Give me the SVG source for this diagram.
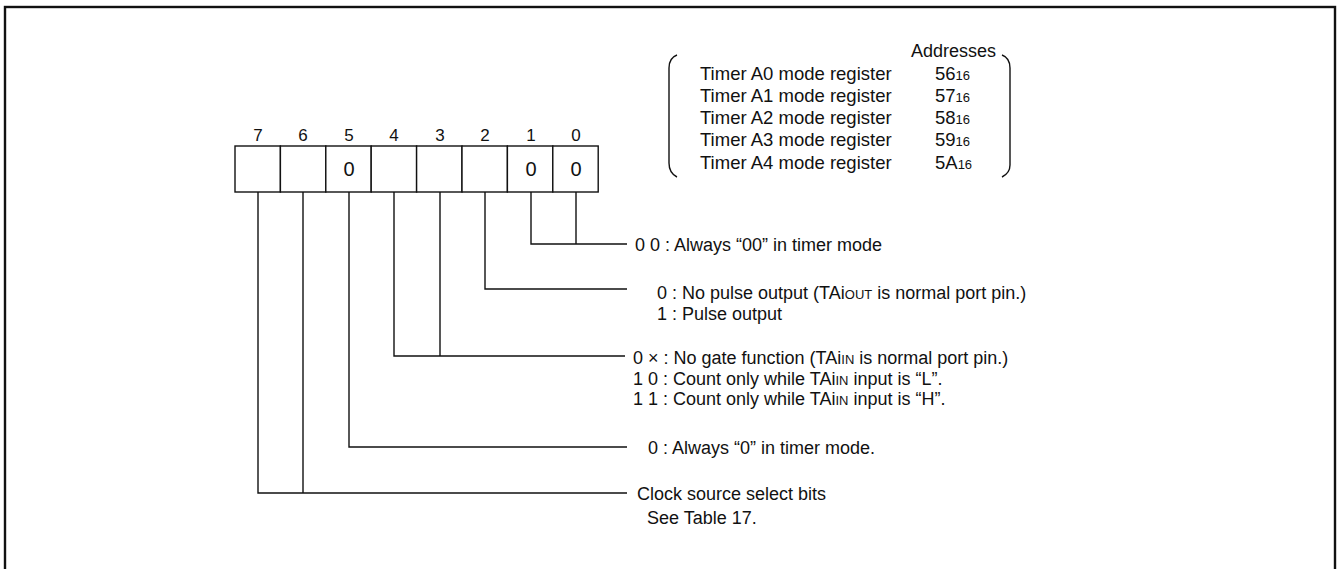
<svg xmlns="http://www.w3.org/2000/svg" width="1337" height="569" viewBox="0 0 1337 569">
<style>
  text { font-family: "Liberation Sans", Arial, sans-serif; fill: #111; }
  .t { font-size: 18px; }
  .a { font-size: 18.5px; }
  .bn { font-size: 17px; text-anchor: middle; }
  .cv { font-size: 20px; text-anchor: middle; }
  .sm { font-size: 13px; }
  .ln { stroke: #111; stroke-width: 1.4; fill: none; }
  .cell { stroke: #111; stroke-width: 1.4; fill: #fff; }
</style>
<rect x="0" y="0" width="1337" height="569" fill="#fff"/>
<rect id="frame" x="5" y="7" width="1330" height="620" fill="none" stroke="#111" stroke-width="2.4"/>

<g id="register">
  <rect class="cell" x="235" y="146" width="45.4" height="46"/>
  <rect class="cell" x="280.4" y="146" width="45.4" height="46"/>
  <rect class="cell" x="325.8" y="146" width="45.4" height="46"/>
  <rect class="cell" x="371.2" y="146" width="45.4" height="46"/>
  <rect class="cell" x="416.6" y="146" width="45.4" height="46"/>
  <rect class="cell" x="462" y="146" width="45.4" height="46"/>
  <rect class="cell" x="507.4" y="146" width="45.4" height="46"/>
  <rect class="cell" x="552.8" y="146" width="45.4" height="46"/>
  <text class="bn" x="258" y="141">7</text>
  <text class="bn" x="303" y="141">6</text>
  <text class="bn" x="349" y="141">5</text>
  <text class="bn" x="394" y="141">4</text>
  <text class="bn" x="440" y="141">3</text>
  <text class="bn" x="485" y="141">2</text>
  <text class="bn" x="531" y="141">1</text>
  <text class="bn" x="576" y="141">0</text>
  <text class="cv" x="349" y="176">0</text>
  <text class="cv" x="531" y="176">0</text>
  <text class="cv" x="576" y="176">0</text>
</g>

<g id="addresses">
  <path class="ln" d="M677 55 Q669 58 669 68 L669 163 Q669 173 677 177"/>
  <path class="ln" d="M1002 55 Q1010 58 1010 68 L1010 165 Q1010 173 1002 177"/>
  <text class="t" x="911" y="56.5">Addresses</text>
  <text class="a" x="700" y="79.5">Timer A0 mode register</text>
  <text class="a" x="700" y="101.7">Timer A1 mode register</text>
  <text class="a" x="700" y="124">Timer A2 mode register</text>
  <text class="a" x="700" y="146">Timer A3 mode register</text>
  <text class="a" x="700" y="168.5">Timer A4 mode register</text>
  <text class="a" x="935" y="79.5">56<tspan class="sm">16</tspan></text>
  <text class="a" x="935" y="101.7">57<tspan class="sm">16</tspan></text>
  <text class="a" x="935" y="124">58<tspan class="sm">16</tspan></text>
  <text class="a" x="935" y="146">59<tspan class="sm">16</tspan></text>
  <text class="a" x="935" y="168.5">5A<tspan class="sm">16</tspan></text>
</g>

<g id="connectors">
  <path class="ln" d="M576 192 V244 M531 192 V244 H627"/>
  <path class="ln" d="M485 192 V289 H627"/>
  <path class="ln" d="M440 192 V356 M394 192 V356 H625"/>
  <path class="ln" d="M349 192 V447 H627"/>
  <path class="ln" d="M303 192 V493 M258 192 V493 H627"/>
</g>

<g id="desc-bits10">
  <text class="t" x="635" y="250.5">0 0 : Always “00” in timer mode</text>
</g>
<g id="desc-bit2">
  <text class="t" x="657" y="298.5">0 : No pulse output (TAi<tspan class="sm">OUT</tspan> is normal port pin.)</text>
  <text class="t" x="657" y="319.5">1 : Pulse output</text>
</g>
<g id="desc-bits43">
  <text class="t" x="633" y="363.5">0 × : No gate function (TAi<tspan class="sm">IN</tspan> is normal port pin.)</text>
  <text class="t" x="633" y="384.5">1 0 : Count only while TAi<tspan class="sm">IN</tspan> input is “L”.</text>
  <text class="t" x="633" y="404.5">1 1 : Count only while TAi<tspan class="sm">IN</tspan> input is “H”.</text>
</g>
<g id="desc-bit5">
  <text class="t" x="648" y="453.5">0 : Always “0” in timer mode.</text>
</g>
<g id="desc-bits76">
  <text class="t" x="637" y="499.5">Clock source select bits</text>
  <text class="t" x="647" y="523.5">See Table 17.</text>
</g>
</svg>
